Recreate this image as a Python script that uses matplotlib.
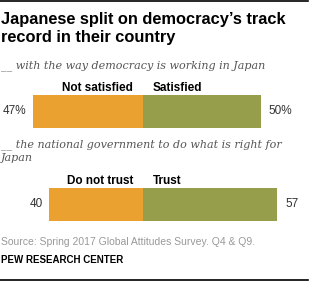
import matplotlib.pyplot as plt

# survey data (percent)
questions = ["__ with the way democracy is working in Japan",
             "__ the national government to do what is right for\nJapan"]
neg_labels = ["Not satisfied", "Do not trust"]
pos_labels = ["Satisfied", "Trust"]
neg_values = [47, 40]
pos_values = [50, 57]
neg_text = ["47%", "40"]
pos_text = ["50%", "57"]

orange = "#EBA12F"
green = "#969E4B"

W, H = 309, 283
fig = plt.figure(figsize=(W / 100, H / 100), dpi=100)

# text layer in pixel coordinates
tx = fig.add_axes([0, 0, 1, 1])
tx.set_xlim(0, W)
tx.set_ylim(H, 0)
tx.axis("off")

# bar layer: x in percent, zero at pixel 143, 2.35 px per point
ax = fig.add_axes([0, 0, 1, 1])
ax.set_xlim(-143 / 2.35, (W - 143) / 2.35)
ax.set_ylim(H, 0)
ax.axis("off")

sans = "Liberation Sans"
serif = "DejaVu Serif"

tx.plot([0, 308], [1, 1], color="black", lw=1.2)
tx.plot([0, 308], [280, 280], color="black", lw=1.2)

tx.text(1, 12, "Japanese split on democracy\u2019s track\nrecord in their country",
        fontsize=11.8, fontweight="bold", family=sans, va="top",
        linespacing=1.25, color="black")

bar_y = [111.5, 204]
q_y = [66, 151]
cat_y = [88, 181]

for i in range(2):
    tx.text(1, q_y[i], questions[i], fontsize=8, style="italic", family=serif,
            color="#555555", va="center", linespacing=1.45)
    ax.barh(bar_y[i], -neg_values[i], height=33, color=orange, left=0)
    ax.barh(bar_y[i], pos_values[i], height=33, color=green, left=0)
    ax.annotate(neg_text[i], (-neg_values[i], bar_y[i]), xytext=(-4.5, 0),
                textcoords="offset points", ha="right", va="center",
                fontsize=8.5, family=sans, color="#333333")
    ax.annotate(pos_text[i], (pos_values[i], bar_y[i]), xytext=(6, 0),
                textcoords="offset points", ha="left", va="center",
                fontsize=8.5, family=sans, color="#333333")
    ax.annotate(neg_labels[i], (0, cat_y[i]), xytext=(-7, 0),
                textcoords="offset points", ha="right", va="center",
                fontsize=8.5, fontweight="bold", family=sans, color="black")
    ax.annotate(pos_labels[i], (0, cat_y[i]), xytext=(7, 0),
                textcoords="offset points", ha="left", va="center",
                fontsize=8.5, fontweight="bold", family=sans, color="black")

tx.text(1, 242, "Source: Spring 2017 Global Attitudes Survey. Q4 & Q9.",
        fontsize=7.5, family=sans, color="#999999", va="center")
tx.text(1, 260, "PEW RESEARCH CENTER", fontsize=7, fontweight="bold",
        family=sans, color="black", va="center")

fig.savefig("out.png", dpi=100)
